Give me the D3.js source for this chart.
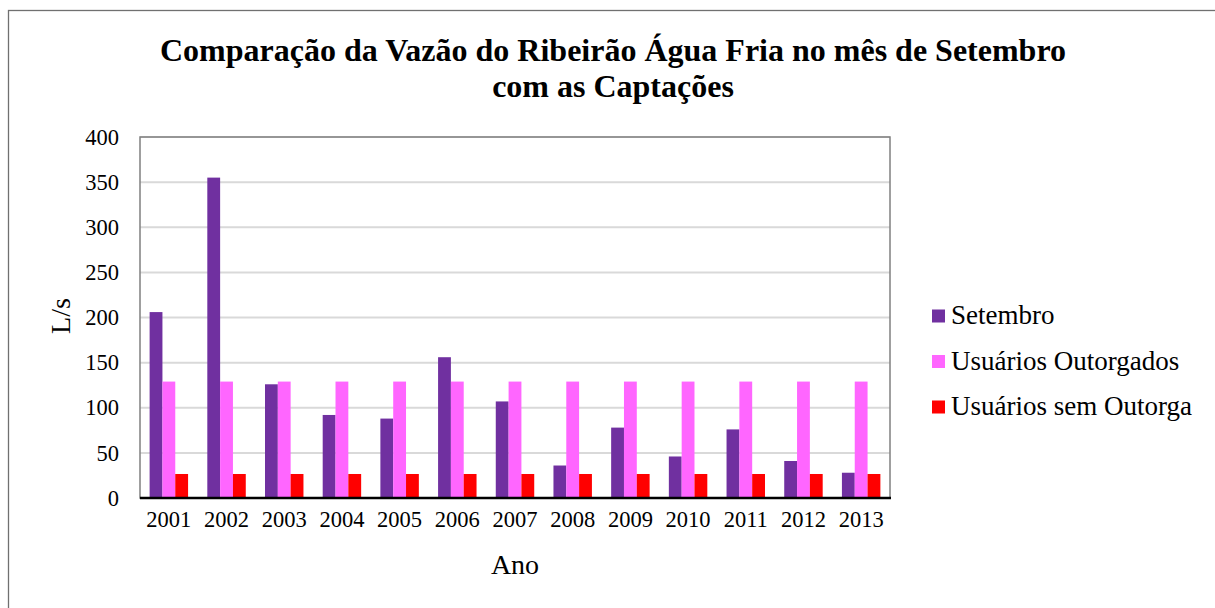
<!DOCTYPE html>
<html>
<head>
<meta charset="utf-8">
<script src="https://cdn.jsdelivr.net/npm/d3@7"></script>
<style>
  body { margin: 0; background: #fff; }
  text { font-family: "Liberation Serif", "Times New Roman", serif; fill: #000; }
</style>
</head>
<body>
<svg id="chart" width="1215" height="608"></svg>
<script>
const years = ["2001","2002","2003","2004","2005","2006","2007","2008","2009","2010","2011","2012","2013"];
const setembro = [206, 355, 126, 92, 88, 156, 107, 36, 78, 46, 76, 41, 28];
const outorgados = [129, 129, 129, 129, 129, 129, 129, 129, 129, 129, 129, 129, 129];
const semOutorga = [26.6, 26.6, 26.6, 26.6, 26.6, 26.6, 26.6, 26.6, 26.6, 26.6, 26.6, 26.6, 26.6];
const seriesNames = ["Setembro", "Usuários Outorgados", "Usuários sem Outorga"];
const colors = ["#7030A0", "#FF66FF", "#FF0000"];
const yTicks = [0, 50, 100, 150, 200, 250, 300, 350, 400];

const svg = d3.select("#chart");

// outer chart border
svg.append("rect")
  .attr("x", 8.5).attr("y", 10.5)
  .attr("width", 1220).attr("height", 610)
  .attr("fill", "none").attr("stroke", "#707070").attr("stroke-width", 1.3);

const plot = { left: 140, top: 137, right: 890, bottom: 498 };

const x = d3.scaleBand().domain(years).range([plot.left, plot.right]);
const y = d3.scaleLinear().domain([0, 400]).range([plot.bottom, plot.top]);

// 3 bars per year, gap between groups = 150% of a bar
const barW = x.bandwidth() / 4.5;
const xs = d3.scaleBand().domain([0, 1, 2]).range([barW * 0.75, barW * 3.75]);

// gridlines
svg.append("g")
  .selectAll("line")
  .data(yTicks.filter(d => d > 0))
  .join("line")
  .attr("x1", plot.left).attr("x2", plot.right)
  .attr("y1", d => y(d)).attr("y2", d => y(d))
  .attr("stroke", "#D9D9D9").attr("stroke-width", 2);

// plot frame
svg.append("rect")
  .attr("x", plot.left).attr("y", plot.top)
  .attr("width", plot.right - plot.left).attr("height", plot.bottom - plot.top)
  .attr("fill", "none").attr("stroke", "#808080").attr("stroke-width", 1.5);

const allSeries = [setembro, outorgados, semOutorga];
allSeries.forEach((vals, si) => {
  svg.append("g")
    .selectAll("rect")
    .data(vals)
    .join("rect")
    .attr("x", (d, i) => x(years[i]) + xs(si))
    .attr("width", xs.bandwidth())
    .attr("y", d => y(d))
    .attr("height", d => y(0) - y(d))
    .attr("fill", colors[si]);
});

// x axis line
svg.append("line")
  .attr("x1", plot.left).attr("x2", plot.right + 1)
  .attr("y1", plot.bottom).attr("y2", plot.bottom)
  .attr("stroke", "#000").attr("stroke-width", 2.5);

// y axis
const yAxis = svg.append("g")
  .attr("transform", `translate(${plot.left},0)`)
  .call(d3.axisLeft(y).tickValues(yTicks).tickSize(0).tickPadding(21));
yAxis.select(".domain").remove();
yAxis.selectAll("text")
  .style("font-family", "'Liberation Serif', serif")
  .style("font-size", "22.5px")
  .attr("fill", "#000");

// x axis labels
const xAxis = svg.append("g")
  .attr("transform", `translate(0,${plot.bottom})`)
  .call(d3.axisBottom(x).tickSize(0).tickPadding(13));
xAxis.select(".domain").remove();
xAxis.selectAll("text")
  .style("font-family", "'Liberation Serif', serif")
  .style("font-size", "22.5px")
  .attr("fill", "#000");

// axis titles
svg.append("text")
  .attr("x", 515).attr("y", 574)
  .attr("text-anchor", "middle")
  .style("font-size", "28px")
  .text("Ano");

svg.append("text")
  .attr("transform", "translate(70,316) rotate(-90)")
  .attr("text-anchor", "middle")
  .style("font-size", "28px")
  .text("L/s");

// title
const title = svg.append("text")
  .attr("text-anchor", "middle")
  .style("font-size", "32px")
  .style("font-weight", "bold");
title.append("tspan").attr("x", 613).attr("y", 61)
  .text("Comparação da Vazão do Ribeirão Água Fria no mês de Setembro");
title.append("tspan").attr("x", 613).attr("y", 97)
  .text("com as Captações");

// legend
const legend = svg.append("g")
  .selectAll("g")
  .data(seriesNames)
  .join("g")
  .attr("transform", (d, i) => `translate(932,${316 + i * 45.5})`);
legend.append("rect")
  .attr("x", 0).attr("y", -6.5)
  .attr("width", 13).attr("height", 13)
  .attr("fill", (d, i) => colors[i]);
legend.append("text")
  .attr("x", 19).attr("y", 8)
  .style("font-size", "27px")
  .text(d => d);
</script>
</body>
</html>
